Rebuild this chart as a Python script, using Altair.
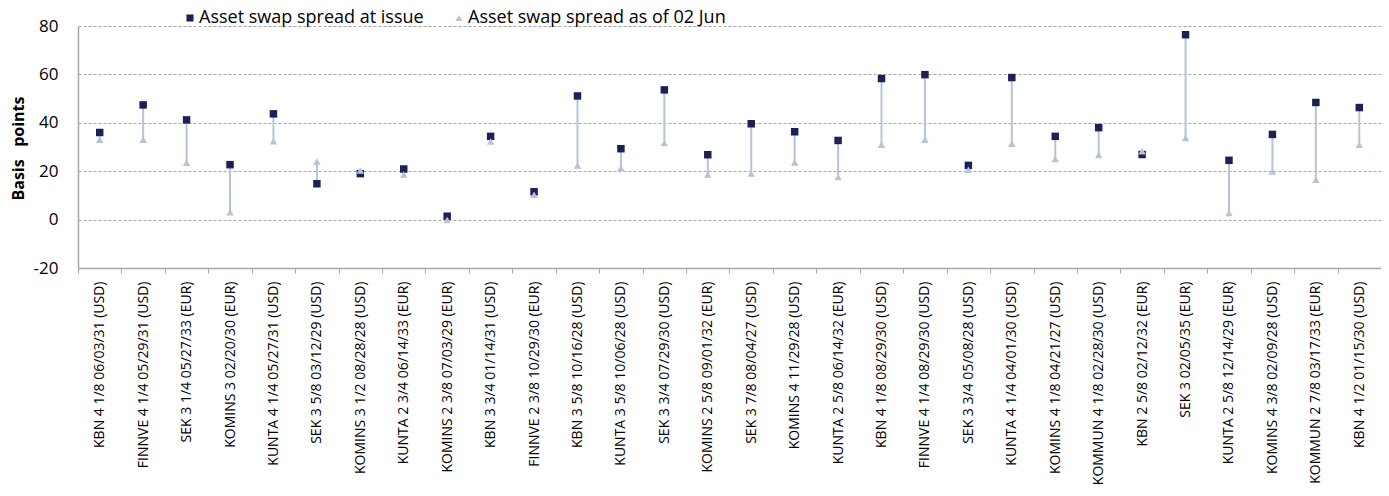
import altair as alt
import pandas as pd

bonds = [
    "KBN 4 1/8 06/03/31 (USD)", "FINNVE 4 1/4 05/29/31 (USD)", "SEK 3 1/4 05/27/33 (EUR)",
    "KOMINS 3 02/20/30 (EUR)", "KUNTA 4 1/4 05/27/31 (USD)", "SEK 3 5/8 03/12/29 (USD)",
    "KOMINS 3 1/2 08/28/28 (USD)", "KUNTA 2 3/4 06/14/33 (EUR)", "KOMINS 2 3/8 07/03/29 (EUR)",
    "KBN 3 3/4 01/14/31 (USD)", "FINNVE 2 3/8 10/29/30 (EUR)", "KBN 3 5/8 10/16/28 (USD)",
    "KUNTA 3 5/8 10/06/28 (USD)", "SEK 3 3/4 07/29/30 (USD)", "KOMINS 2 5/8 09/01/32 (EUR)",
    "SEK 3 7/8 08/04/27 (USD)", "KOMINS 4 11/29/28 (USD)", "KUNTA 2 5/8 06/14/32 (EUR)",
    "KBN 4 1/8 08/29/30 (USD)", "FINNVE 4 1/4 08/29/30 (USD)", "SEK 3 3/4 05/08/28 (USD)",
    "KUNTA 4 1/4 04/01/30 (USD)", "KOMINS 4 1/8 04/21/27 (USD)", "KOMMUN 4 1/8 02/28/30 (USD)",
    "KBN 2 5/8 02/12/32 (EUR)", "SEK 3 02/05/35 (EUR)", "KUNTA 2 5/8 12/14/29 (EUR)",
    "KOMINS 4 3/8 02/09/28 (USD)", "KOMMUN 2 7/8 03/17/33 (EUR)", "KBN 4 1/2 01/15/30 (USD)",
]
at_issue = [36.0, 47.4, 41.2, 22.7, 43.7, 14.8, 19.0, 20.9, 1.4, 34.4,
            11.5, 51.1, 29.3, 53.6, 26.8, 39.6, 36.3, 32.7, 58.3, 59.9,
            22.4, 58.7, 34.4, 38.0, 26.9, 76.4, 24.5, 35.2, 48.4, 46.3]
as_of_jun = [33.0, 33.0, 23.5, 3.0, 32.4, 24.0, 20.3, 18.6, -0.2, 32.3,
             10.3, 22.3, 21.3, 31.6, 18.6, 19.0, 23.6, 17.6, 30.9, 33.0,
             20.6, 31.3, 25.0, 26.7, 28.2, 33.7, 2.7, 19.9, 16.5, 30.9]

s_issue = "Asset swap spread at issue"
s_now = "Asset swap spread as of 02 Jun"
y_ticks = [-20, 0, 20, 40, 60, 80]

df = pd.DataFrame({"bond": bonds, s_issue: at_issue, s_now: as_of_jun})

FONT = "Open Sans"
GRAY = "#a6a6a6"
NAVY = "#1b2157"
LIGHT = "#b6c4d6"

x_enc = alt.X(
    "bond:N", sort=bonds, title=None,
    scale=alt.Scale(type="band", paddingInner=0, paddingOuter=0),
    axis=alt.Axis(labelAngle=-90, labelFontSize=14, labelFont=FONT, labelColor="#000000",
                  tickBand="extent", tickSize=5, tickColor=GRAY, domainColor=GRAY,
                  domainWidth=1.5, labelPadding=8, grid=False, labelLimit=400,
                  labelOverlap=False),
)

legend = alt.Legend(title=None, orient="none", legendX=103, legendY=-17,
                    direction="horizontal", labelFont=FONT, labelFontSize=18,
                    labelColor="#000000", symbolSize=50, columnPadding=26,
                    symbolOpacity=1, labelLimit=0, labelOffset=0)

base = alt.Chart(df)

rules = base.mark_rule(color=LIGHT, strokeWidth=2).encode(
    x=x_enc,
    y=alt.Y(f"{s_issue}:Q"),
    y2=alt.Y2(f"{s_now}:Q"),
)

points = base.transform_fold([s_issue, s_now], as_=["series", "value"]).mark_point(
    filled=True, opacity=1, size=56
).encode(
    x=x_enc,
    y=alt.Y(
        "value:Q", title="Basis\u00a0\u00a0\u00a0points",
        scale=alt.Scale(domain=[-20, 80], nice=False),
        axis=alt.Axis(values=y_ticks, ticks=False, labelPadding=20, labelFontSize=17,
                      labelExpr="'' + datum.value",
                      labelFont=FONT, labelColor="#000000", titleFont=FONT, titleFontSize=16,
                      titleFontWeight="bold", titleColor="#000000",
                      titleX=-60, titleY=122, titleBaseline="middle", titleAlign="center",
                      titleAngle=270,
                      domainColor=GRAY, domainWidth=1.5, gridColor=GRAY, gridDash=[3, 2],
                      gridWidth=1),
    ),
    shape=alt.Shape("series:N", scale=alt.Scale(domain=[s_issue, s_now], range=["square", "triangle-up"]),
                    legend=legend),
    color=alt.Color("series:N", scale=alt.Scale(domain=[s_issue, s_now], range=[NAVY, LIGHT]),
                    legend=legend),
)

chart = alt.layer(rules, points).properties(
    width=1303, height=242,
    autosize=alt.AutoSizeParams(type="none"),
    padding={"left": 70, "top": 18, "right": 0, "bottom": 220},
).configure_view(stroke=None).configure_axisY(grid=True)

chart.save("out.html", embed_options={"renderer": "svg", "actions": False})
